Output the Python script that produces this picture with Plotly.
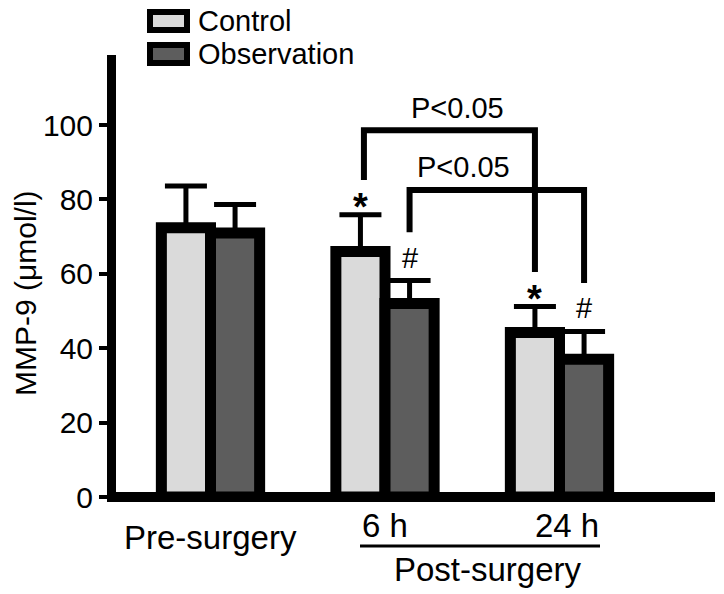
import plotly.graph_objects as go

# ---- data ----
groups = ["Pre-surgery", "6 h", "24 h"]
control = [72.4, 66.0, 44.2]
control_err = [11.2, 9.9, 7.0]
observation = [71.0, 52.0, 37.0]
observation_err = [7.6, 6.2, 7.5]
yticks = [0, 20, 40, 60, 80, 100]
series_names = ["Control", "Observation"]
star_marks = ["", "*", "*"]
hash_marks = ["", "#", "#"]
p_label = "P&lt;0.05"

# ---- layout geometry ----
W, H = 724, 594
ML, MR, MT, MB = 116, 9, 55, 92
PW, PH = W - ML - MR, H - MT - MB
FONT = "Liberation Sans, Arial, sans-serif"
CTRL_FILL = "#dadada"
OBS_FILL = "#5d5d5d"
BAR_HALF = 0.1408          # half of one bar width (category units)
xpos = list(range(len(groups)))

def px(x):   # page pixel -> paper x
    return (x - ML) / PW

def py(y):   # page pixel -> paper y
    return (H - MB - y) / PH

fig = go.Figure()
for name, vals, errs, fill in [
    (series_names[0], control, control_err, CTRL_FILL),
    (series_names[1], observation, observation_err, OBS_FILL),
]:
    fig.add_trace(go.Bar(
        x=xpos, y=vals, name=name,
        marker=dict(color=fill, line=dict(color="black", width=11)),
        error_y=dict(type="data", array=errs, arrayminus=[0] * len(errs),
                     symmetric=False, color="black", thickness=5, width=21),
        showlegend=False, hoverinfo="skip",
    ))

annotations = []
shapes = []

# significance marks
for i in xpos:
    ctop = control[i] + control_err[i]
    otop = observation[i] + observation_err[i]
    if star_marks[i]:
        annotations.append(dict(x=i - BAR_HALF, y=ctop, xref="x", yref="y",
                                text="<b>*</b>", showarrow=False, yanchor="middle",
                                yshift=8, font=dict(size=38, family=FONT, color="black")))
    if hash_marks[i]:
        annotations.append(dict(x=i + BAR_HALF, y=otop, xref="x", yref="y",
                                text="#", showarrow=False, yanchor="middle",
                                yshift=23, font=dict(size=29, family=FONT, color="black")))

# brackets
c6 = control[1] + control_err[1]
c24 = control[2] + control_err[2]
o6 = observation[1] + observation_err[1]
o24 = observation[2] + observation_err[2]
b1, b2 = 98.6, 82.5
shapes.append(dict(type="path", xref="x", yref="y",
                   path=f"M {1-BAR_HALF+0.02},{c6+9.3} L {1-BAR_HALF+0.02},{b1} L {2-BAR_HALF},{b1} L {2-BAR_HALF},{c24+9.3}",
                   line=dict(color="black", width=6)))
shapes.append(dict(type="path", xref="x", yref="y",
                   path=f"M {1+BAR_HALF},{o6+13} L {1+BAR_HALF},{b2} L {2+BAR_HALF},{b2} L {2+BAR_HALF},{o24+13}",
                   line=dict(color="black", width=6)))
annotations.append(dict(x=1.413, y=b1 + 6, xref="x", yref="y", text=p_label, showarrow=False,
                        yanchor="middle", font=dict(size=29, family=FONT, color="black")))
annotations.append(dict(x=1.447, y=b2 + 6.2, xref="x", yref="y", text=p_label, showarrow=False,
                        yanchor="middle", font=dict(size=29, family=FONT, color="black")))

# category labels
LBL = dict(size=33, family=FONT, color="black")
annotations.append(dict(x=0, y=py(537), xref="x", yref="paper", text=groups[0], showarrow=False,
                        yanchor="middle", font=LBL))
annotations.append(dict(x=1, y=py(525), xref="x", yref="paper", text=groups[1], showarrow=False,
                        yanchor="middle", font=LBL))
annotations.append(dict(x=2, y=py(525), xref="x", yref="paper", text=groups[2], showarrow=False,
                        yanchor="middle", xshift=7, font=LBL))
shapes.append(dict(type="line", xref="paper", yref="paper", x0=px(360), x1=px(600),
                   y0=py(546), y1=py(546), line=dict(color="black", width=3)))
annotations.append(dict(x=px(488), y=py(569), xref="paper", yref="paper", text="Post-surgery",
                        showarrow=False, yanchor="middle", font=LBL))

# y title
annotations.append(dict(x=px(25), y=py(293), xref="paper", yref="paper", text="MMP-9 (μmol/l)",
                        textangle=-90, showarrow=False, xanchor="center", yanchor="middle",
                        font=dict(size=30, family=FONT, color="black")))

# legend (manual)
for k, (name, fill) in enumerate([(series_names[0], CTRL_FILL), (series_names[1], OBS_FILL)]):
    top = 12 + k * 33
    shapes.append(dict(type="rect", xref="paper", yref="paper",
                       x0=px(150), x1=px(187), y0=py(top), y1=py(top + 18),
                       fillcolor=fill, line=dict(color="black", width=6)))
    annotations.append(dict(x=px(196), y=py(top + 9), xref="paper", yref="paper", text=name,
                            showarrow=False, xanchor="left", yanchor="middle",
                            font=dict(size=29, family=FONT, color="black")))

xr0 = -(210.5 - ML) / 174.5
fig.update_layout(
    width=W, height=H,
    margin=dict(l=ML, r=MR, t=MT, b=MB, pad=0),
    paper_bgcolor="white", plot_bgcolor="white",
    barmode="group", bargap=1 - 4 * BAR_HALF, bargroupgap=0,
    showlegend=False,
    font=dict(family=FONT, color="black"),
    xaxis=dict(range=[xr0, xr0 + PW / 174.5], showticklabels=False, ticks="",
               showline=False, showgrid=False, zeroline=False, fixedrange=True),
    yaxis=dict(range=[-5 / 3.72, -5 / 3.72 + PH / 3.72], tickvals=yticks,
               ticks="outside", ticklen=8, tickwidth=3.5, tickcolor="black",
               tickfont=dict(size=30, family=FONT, color="black"),
               showline=True, linewidth=9, linecolor="black",
               zeroline=True, zerolinewidth=10, zerolinecolor="black",
               showgrid=False, fixedrange=True),
    annotations=annotations,
    shapes=shapes,
)

fig.write_html("out.html", config={"displayModeBar": False},
               post_script="document.body.style.margin='0';document.body.style.overflow='hidden';")
